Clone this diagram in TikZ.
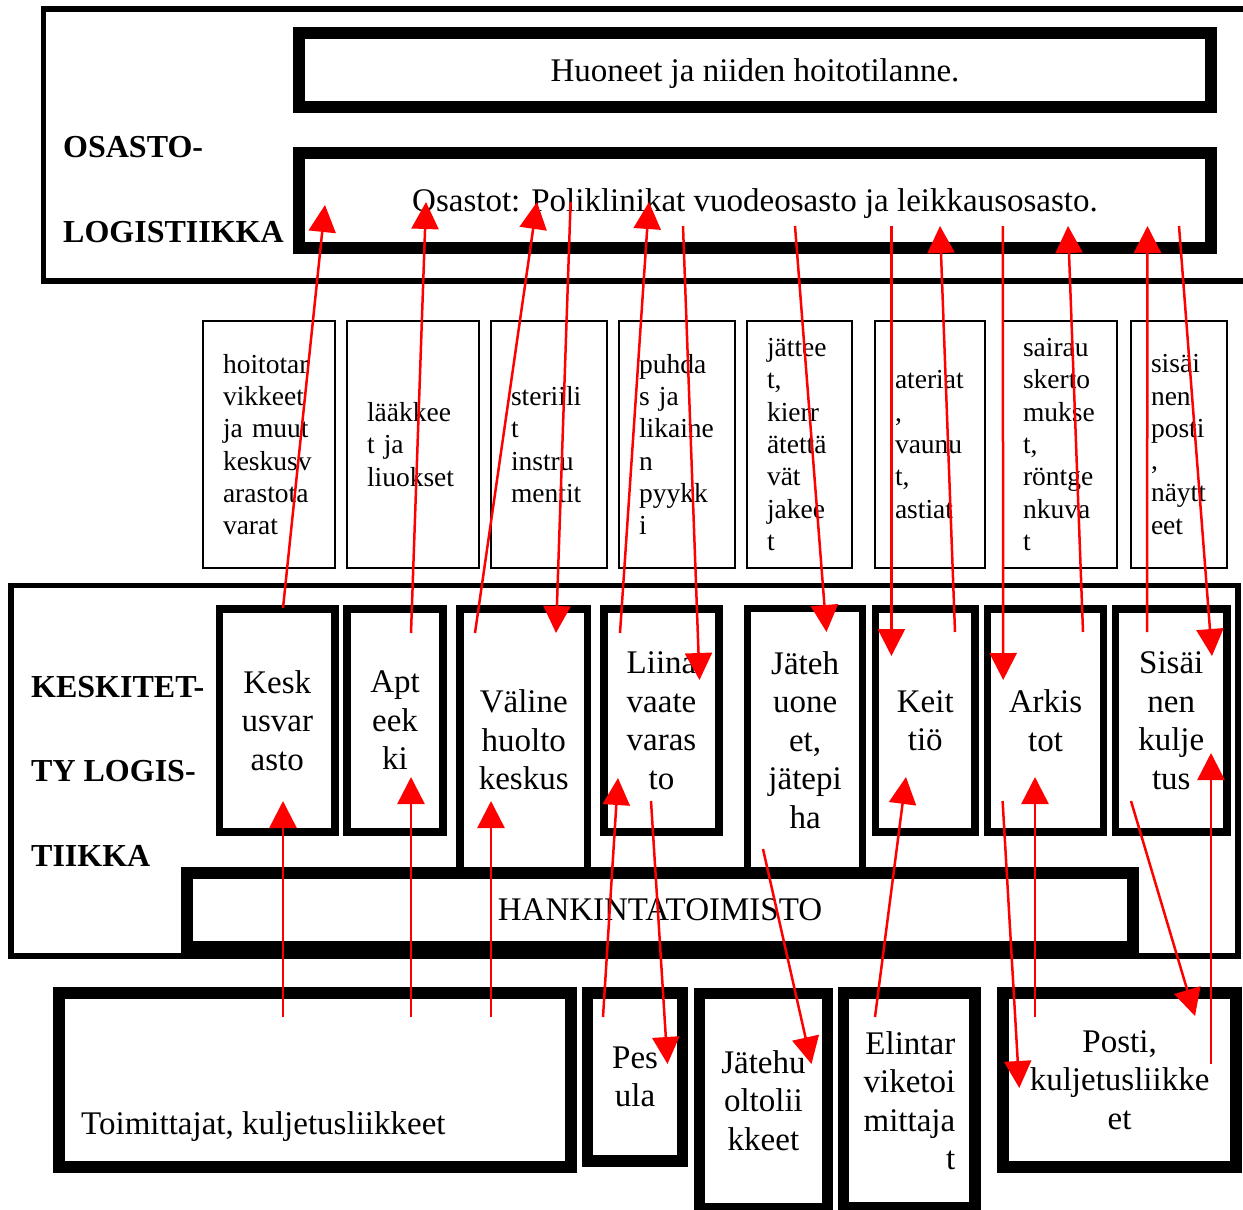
\documentclass[tikz,border=0pt]{standalone}
\usepackage{fontspec}
\setmainfont{Liberation Serif}
\usetikzlibrary{arrows.meta}
\hyphenpenalty=10000
\exhyphenpenalty=10000
\begin{document}
\begin{tikzpicture}[x=1pt,y=-1pt,
  bigtxt/.style={font=\fontsize{33}{38.5}\selectfont},
  smalltxt/.style={font=\fontsize{27.5}{32.3}\selectfont},
  lbltxt/.style={font=\fontsize{32}{38}\selectfont\bfseries, anchor=base west, inner sep=0pt},
  areabox/.style={draw, line width=5.5pt, anchor=north west, inner sep=0pt, outer sep=0pt},
  heavybox/.style={draw, line width=12pt, fill=white, inner sep=0pt, bigtxt, align=center},
  midbox/.style={draw, line width=7.5pt, fill=white, inner sep=0pt, bigtxt, align=center},
  labbox/.style={draw, line width=2pt, inner ysep=0pt, inner xsep=20pt, smalltxt, align=left},
  flow/.style={red, line width=2.5pt, -{Triangle[length=27pt,width=27pt]}},
]
\useasboundingbox (0,0) rectangle (1243,1210);
\clip (0,0) rectangle (1243,1210);
\fill[white] (0,0) rectangle (1243,1210);

% ---------- upper area ----------
\node[areabox, minimum width=1240pt, minimum height=272pt] (osarea) at (43.5,9) {};
\node[lbltxt] (osl1) at (63,157) {OSASTO-};
\node[lbltxt] (osl2) at (63,242) {LOGISTIIKKA};
\node[heavybox, minimum width=912pt, minimum height=74pt, text height=23pt, text depth=1pt] (huone) at (755,70) {Huoneet ja niiden hoitotilanne.};
\node[heavybox, minimum width=912pt, minimum height=95pt, text height=23pt, text depth=1pt] (osastot) at (755,200.5) {Osastot: Poliklinikat vuodeosasto ja leikkausosasto.};

% ---------- goods label boxes ----------
\node[labbox, minimum width=132pt, minimum height=247.6pt, text width=92pt] (lb1) at (269,444.5) {hoitotar\\vikkeet\\ja muut\\keskusv\\arastota\\varat};
\node[labbox, minimum width=132pt, minimum height=247.6pt, text width=92pt] (lb2) at (413,444.5) {lääkkee\\t ja\\liuokset};
\node[labbox, minimum width=116pt, minimum height=247.6pt, text width=76pt] (lb3) at (549,444.5) {steriili\\t\\instru\\mentit};
\node[labbox, minimum width=116pt, minimum height=247.6pt, text width=76pt] (lb4) at (677,444.5) {puhda\\s ja\\likaine\\n\\pyykk\\i};
\node[labbox, minimum width=105pt, minimum height=247.6pt, text width=65pt] (lb5) at (799.5,444.5) {jättee\\t,\\kierr\\ätettä\\vät\\jakee\\t};
\node[labbox, minimum width=110pt, minimum height=247.6pt, text width=70pt] (lb6) at (930,444.5) {ateriat\\,\\vaunu\\t,\\astiat};
\node[labbox, minimum width=114pt, minimum height=247.6pt, text width=74pt] (lb7) at (1060,444.5) {sairau\\skerto\\mukse\\t,\\röntge\\nkuva\\t};
\node[labbox, minimum width=96pt, minimum height=247.6pt, text width=56pt] (lb8) at (1179,444.5) {sisäi\\nen\\posti\\,\\näytt\\eet};

% ---------- central logistics area ----------
\node[areabox, minimum width=1227pt, minimum height=370.5pt] (kesarea) at (11,585.5) {};
\node[lbltxt] (kl1) at (31,697.7) {KESKITET-};
\node[lbltxt] (kl2) at (31,781.7) {TY LOGIS-};
\node[lbltxt] (kl3) at (31,866) {TIIKKA};

\node[midbox, minimum width=115.5pt, minimum height=223pt] (kesk) at (277.25,720.5) {Kesk\\usvar\\asto};
\node[midbox, minimum width=96pt, minimum height=223pt] (apt) at (395,720.5) {Apt\\eek\\ki};
\node[midbox, minimum width=127.5pt, minimum height=262pt] (vali) at (523.75,740) {Väline\\huolto\\keskus};
\node[midbox, minimum width=115pt, minimum height=223pt] (liina) at (661.5,720.5) {Liina\\vaate\\varas\\to};
\node[midbox, minimum width=115.2pt, minimum height=262.5pt] (jate) at (805.1,739.75) {Jäteh\\uone\\et,\\jätepi\\ha};
\node[midbox, minimum width=99.5pt, minimum height=223pt] (keit) at (925.25,720.5) {Keit\\tiö};
\node[midbox, minimum width=116pt, minimum height=223pt] (ark) at (1045.5,720.5) {Arkis\\tot};
\node[midbox, minimum width=111.5pt, minimum height=223pt] (sis) at (1171.25,720.5) {Sisäi\\nen\\kulje\\tus};
\node[heavybox, minimum width=946pt, minimum height=74pt] (hank) at (660,910) {HANKINTATOIMISTO};

% ---------- external partners ----------
\node[heavybox, minimum width=511.5pt, minimum height=173.5pt] (toim) at (314.75,1079.75) {};
\node[bigtxt, anchor=base west, inner sep=0pt] (toimtxt) at (81,1134) {Toimittajat, kuljetusliikkeet};
\node[heavybox, line width=11.5pt, minimum width=95.2pt, minimum height=168pt] (pes) at (635.1,1077) {Pes\\ula};
\node[heavybox, line width=11pt, minimum width=127.9pt, minimum height=215pt] (jhl) at (763.45,1100.5) {Jätehu\\oltolii\\kkeet};
\node[heavybox, line width=11.5pt, minimum width=131.5pt, minimum height=215pt, text width=92pt, align=right] (elin) at (909.25,1100.5) {Elintar\\viketoi\\mittaja\\t};
\node[heavybox, minimum width=232.4pt, minimum height=173.5pt] (posti) at (1119.6,1079.75) {Posti,\\kuljetusliikke\\et};

% ---------- connector end points ----------
\coordinate (s1) at (283,608);    \coordinate (t1) at (325,205);
\coordinate (s2) at (411,633);    \coordinate (t2) at (426,202);
\coordinate (s3) at (475,633);    \coordinate (t3) at (537,202);
\coordinate (s4) at (570.6,202);  \coordinate (t4) at (556,633);
\coordinate (s5) at (620,633);    \coordinate (t5) at (649,202);
\coordinate (s6) at (683,226);    \coordinate (t6) at (699.5,680);
\coordinate (s7) at (795,226);    \coordinate (t7) at (826.5,632);
\coordinate (s8) at (891.4,226);  \coordinate (t8) at (891.4,656);
\coordinate (s9) at (955,632);    \coordinate (t9) at (940,226);
\coordinate (s10) at (1002.8,226);\coordinate (t10) at (1003.2,680);
\coordinate (s11) at (1083,632);  \coordinate (t11) at (1068,226);
\coordinate (s12) at (1147,632);  \coordinate (t12) at (1147.5,226);
\coordinate (s13) at (1179,226);  \coordinate (t13) at (1212,656);
\coordinate (s14) at (283,1017);  \coordinate (t14) at (283,801);
\coordinate (s15) at (411,1017);  \coordinate (t15) at (411,777);
\coordinate (s16) at (491,1017);  \coordinate (t16) at (491,801);
\coordinate (s17) at (603,1017);  \coordinate (t17) at (618,778);
\coordinate (s18) at (651,801);   \coordinate (t18) at (667.5,1064);
\coordinate (s19) at (763,849);   \coordinate (t19) at (811.5,1064);
\coordinate (s20) at (875,1017);  \coordinate (t20) at (906,777);
\coordinate (s21) at (1002.6,801);\coordinate (t21) at (1019.3,1088);
\coordinate (s22) at (1035,1017); \coordinate (t22) at (1035,777);
\coordinate (s23) at (1131,801);  \coordinate (t23) at (1195,1016);
\coordinate (s24) at (1211,1064); \coordinate (t24) at (1211,753);

\foreach \i in {1,...,24} { \draw[flow] (s\i) -- (t\i); }
\end{tikzpicture}
\end{document}
